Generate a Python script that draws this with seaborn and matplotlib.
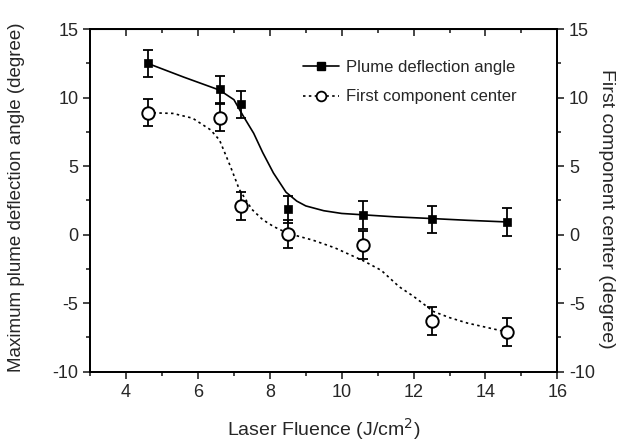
import matplotlib
matplotlib.use("Agg")
import matplotlib.pyplot as plt
from matplotlib.lines import Line2D
from matplotlib.ticker import MultipleLocator
import seaborn as sns
import pandas as pd

# measured points (laser fluence in J/cm^2, angles in degree)
fluence = [4.6, 6.6, 7.2, 8.5, 10.6, 12.5, 14.6]
plume_angle = [12.5, 10.6, 9.5, 1.85, 1.45, 1.13, 0.93]
first_center = [8.9, 8.55, 2.1, 0.05, -0.75, -6.3, -7.1]
err = [1.0, 1.0, 1.0, 1.0, 1.0, 1.0, 1.0]

# guide curves
curve_plume_x = [4.6, 5.6, 6.6, 7.0, 7.25, 7.55, 7.8, 8.1, 8.45, 8.75, 9.0, 9.5, 10.0, 10.6, 11.5, 12.5, 13.5, 14.6]
curve_plume_y = [12.5, 11.5, 10.55, 9.85, 8.7, 7.4, 6.0, 4.5, 3.1, 2.45, 2.1, 1.75, 1.55, 1.45, 1.3, 1.18, 1.05, 0.93]
curve_first_x = [4.6, 5.3, 5.85, 6.35, 6.6, 6.9, 7.15, 7.5, 7.8, 8.1, 8.5, 9.2, 9.8, 10.6, 11.1, 11.6, 12.0, 12.55, 13.0, 13.5, 14.6]
curve_first_y = [8.9, 8.85, 8.5, 7.65, 6.9, 5.0, 3.3, 1.85, 1.1, 0.6, 0.1, -0.4, -0.95, -1.9, -2.6, -3.8, -4.5, -5.6, -6.05, -6.45, -7.1]

sns.set_style("ticks")
plt.rcParams["font.family"] = ["Liberation Sans", "DejaVu Sans"]
plt.rcParams["axes.unicode_minus"] = False

pts = pd.DataFrame({"x": fluence, "plume": plume_angle, "first": first_center, "err": err})
c1 = pd.DataFrame({"x": curve_plume_x, "y": curve_plume_y})
c2 = pd.DataFrame({"x": curve_first_x, "y": curve_first_y})

fig = plt.figure(figsize=(6.22, 4.41), dpi=100)
ax = fig.add_axes([0.145, 0.157, 0.751, 0.777])
ax2 = ax.twinx()

sns.lineplot(data=c1, x="x", y="y", ax=ax, color="black", lw=1.2, sort=False)
ax.errorbar(pts["x"], pts["plume"], yerr=pts["err"], fmt="none", ecolor="black",
            elinewidth=1.3, capsize=3.5, capthick=1.3)
sns.scatterplot(data=pts, x="x", y="plume", ax=ax, marker="s", s=40, color="black",
                edgecolor="black", zorder=5)

sns.lineplot(data=c2, x="x", y="y", ax=ax2, color="black", lw=1.2, ls=(0, (1.5, 2)), sort=False)
ax2.errorbar(pts["x"], pts["first"], yerr=pts["err"], fmt="none", ecolor="black",
             elinewidth=1.3, capsize=3.5, capthick=1.3)
sns.scatterplot(data=pts, x="x", y="first", ax=ax2, marker="o", s=80, facecolor="white",
                edgecolor="black", linewidth=1.4, zorder=5)

for a in (ax, ax2):
    a.set_xlim(3, 16)
    a.set_ylim(-10, 15)
    a.yaxis.set_major_locator(MultipleLocator(5))
    a.yaxis.set_minor_locator(MultipleLocator(2.5))
    for s in a.spines.values():
        s.set_visible(True)
        s.set_linewidth(1.3)
        s.set_color("black")

ax.xaxis.set_major_locator(MultipleLocator(2))
ax.xaxis.set_minor_locator(MultipleLocator(1))
ax.tick_params(axis="x", which="both", direction="out", labelsize=13, width=1.2)
ax.tick_params(axis="y", which="both", direction="out", labelsize=13, width=1.2)
ax.tick_params(which="major", length=5)
ax.tick_params(which="minor", length=3)
ax2.tick_params(axis="y", which="both", direction="out", labelsize=13, width=1.2)
ax2.tick_params(which="major", length=5)
ax2.tick_params(which="minor", length=3)

# top axis ticks point inward
top = ax.secondary_xaxis("top")
top.xaxis.set_major_locator(MultipleLocator(2))
top.xaxis.set_minor_locator(MultipleLocator(1))
top.tick_params(which="both", direction="in", labeltop=False, width=1.2)
top.tick_params(which="major", length=5)
top.tick_params(which="minor", length=3)

ax.set_xlabel("Laser Fluence (J/cm$^2$)", fontsize=14, labelpad=11)
ax.set_ylabel("Maximum plume deflection angle (degree)", fontsize=13.5)
ax.yaxis.set_label_coords(-0.139, 0.51)
ax2.set_ylabel("First component center (degree)", fontsize=14, rotation=270)
ax2.yaxis.set_label_coords(1.124, 0.475)

handles = [
    Line2D([], [], color="black", lw=1.2, marker="s", markersize=6),
    Line2D([], [], color="black", lw=1.2, ls=(0, (1.5, 2)), marker="o", markersize=7,
           markerfacecolor="white", markeredgewidth=1.3),
]
ax.legend(handles, ["Plume deflection angle", "First component center"], loc="upper left",
          bbox_to_anchor=(0.423, 0.953), frameon=False, fontsize=12, handlelength=2.2,
          handletextpad=0.4, labelspacing=0.85)

fig.savefig("out.png", dpi=100)
